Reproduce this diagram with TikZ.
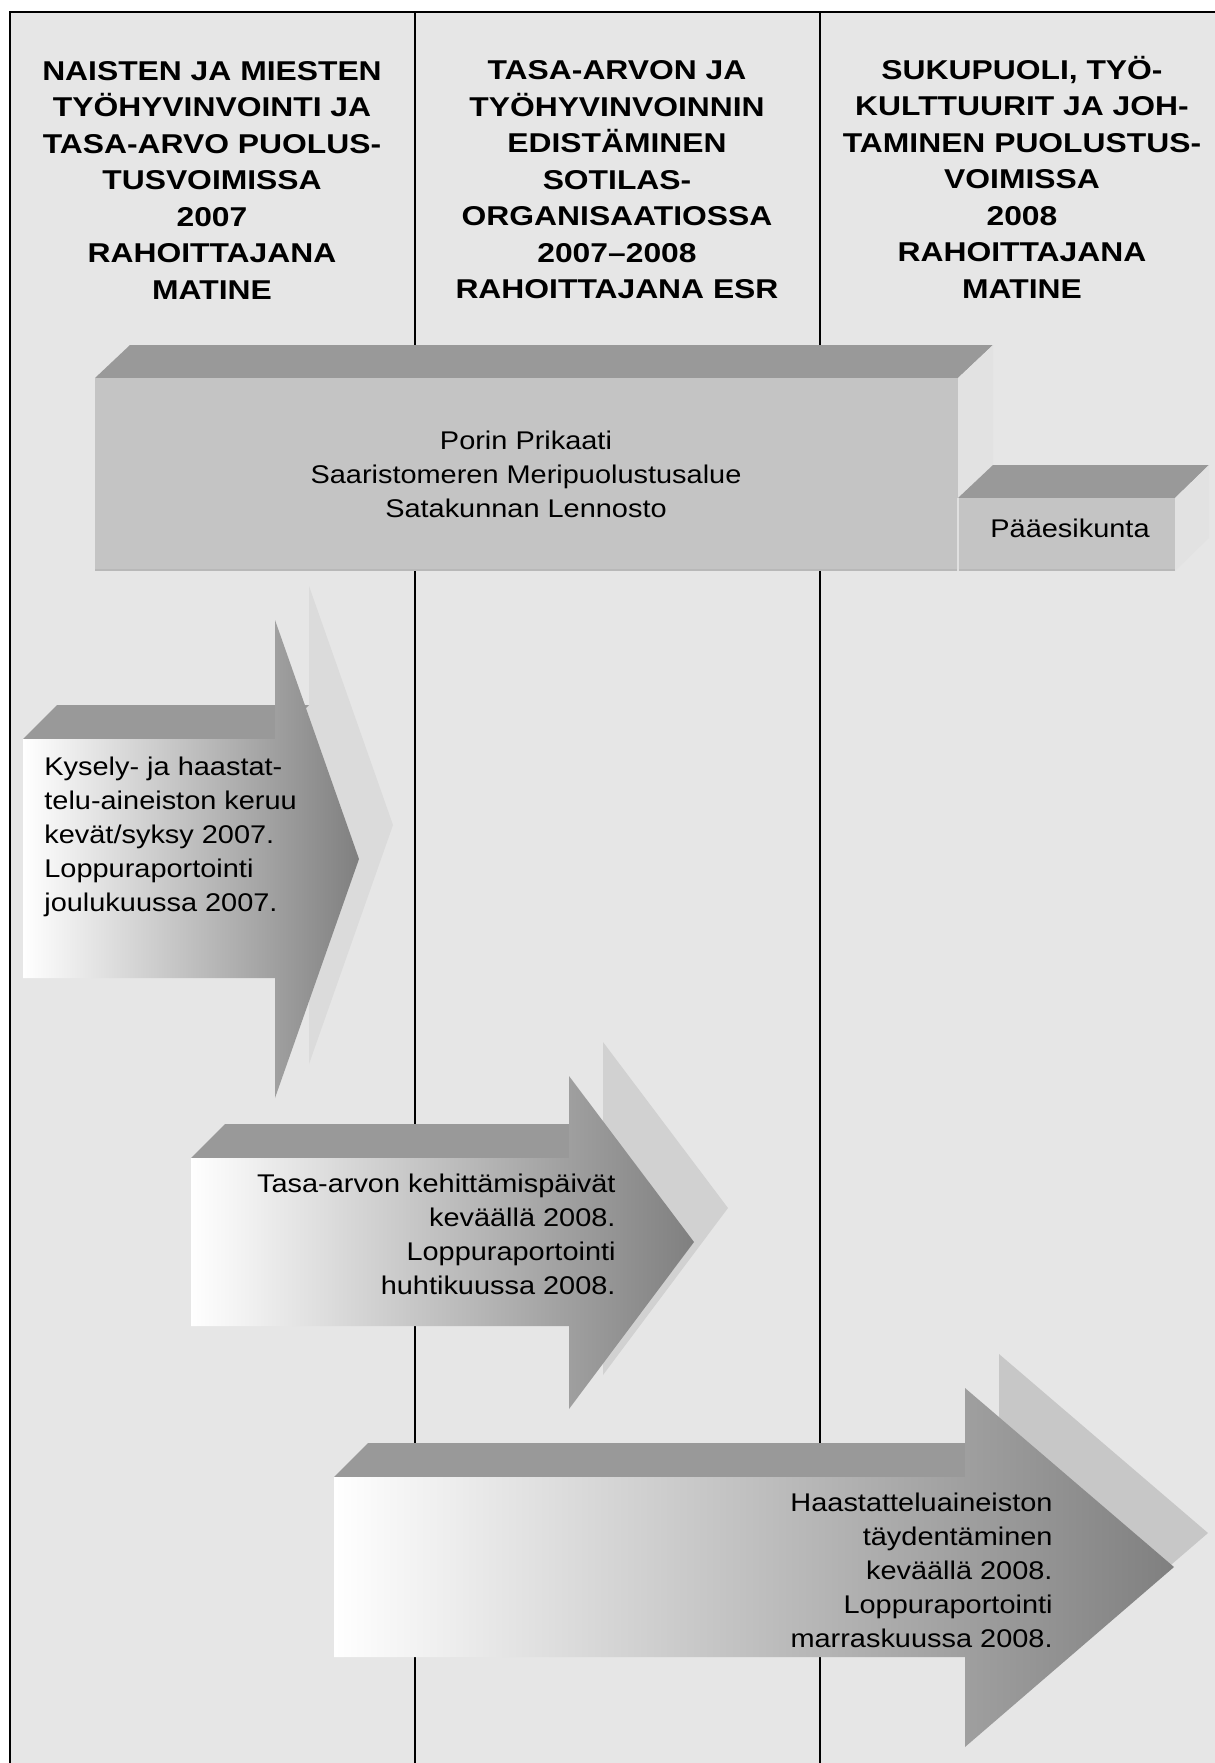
\documentclass[tikz,border=0pt]{standalone}
\usepackage{fontspec}
\setmainfont{Liberation Sans}[FakeStretch=1.13]
\newfontfamily\headfont{Liberation Sans}[FakeStretch=1.17, Ligatures=TeX]

\definecolor{panelgray}{RGB}{230,230,230}
\definecolor{frontgray}{RGB}{196,196,196}
\definecolor{topgray}{RGB}{153,153,153}
\definecolor{sidegray}{RGB}{226,226,226}

\tikzset{
  header/.style={font=\headfont\bfseries\fontsize{13.6}{18.25}\selectfont, align=center, inner sep=0pt},
  bodytext/.style={font=\fontsize{12.8}{17}\selectfont, inner sep=0pt},
  topface/.style={fill=topgray},
}

\begin{document}
\begin{tikzpicture}[x=0.5pt, y=-0.5pt]

\useasboundingbox (0,0) rectangle (1215,1763);

\fill[panelgray] (10,12) rectangle (1215,1763);
\draw[black, line width=1pt] (10,1763) -- (10,12) -- (1215,12);
\foreach \colx in {415,820}
  \draw[black, line width=0.9pt] (\colx,12) -- (\colx,1763);

% column headers
\node[header] (head1) at (212,180) {NAISTEN JA MIESTEN\\TYÖHYVINVOINTI JA\\TASA-ARVO PUOLUS-\\TUSVOIMISSA\\2007\\RAHOITTAJANA\\MATINE};
\node[header] (head2) at (617,180) {TASA-ARVON JA\\TYÖHYVINVOINNIN\\EDISTÄMINEN\\SOTILAS-\\ORGANISAATIOSSA\\2007–2008\\RAHOITTAJANA ESR};
\node[header] (head3) at (1022,177) {SUKUPUOLI, TYÖ-\\KULTTUURIT JA JOH-\\TAMINEN PUOLUSTUS-\\VOIMISSA\\2008\\RAHOITTAJANA\\MATINE};

% units box
\fill[topface] (95,378) -- (130,345) -- (993,345) -- (958,378) -- cycle;
\fill[sidegray] (958,378) -- (993,345) -- (993,538) -- (958,571) -- cycle;
\fill[frontgray] (95,378) rectangle (958,571);
\draw[black!28, line width=0.8pt] (95,570) -- (958,570);
\node[bodytext, align=center] (units) at (526,474) {Porin Prikaati\\Saaristomeren Meripuolustusalue\\Satakunnan Lennosto};

% headquarters box
\fill[topface] (958,498) -- (993,465) -- (1209,465) -- (1175,498) -- cycle;
\fill[sidegray] (1175,498) -- (1209,465) -- (1209,538) -- (1175,571) -- cycle;
\fill[frontgray] (958,498) rectangle (1175,571);
\draw[black!28, line width=0.8pt] (958,570) -- (1175,570);
\draw[black!12, line width=0.6pt] (958,498) -- (958,571);
\node[bodytext] (hq) at (1070,528) {Pääesikunta};

% phase arrows
\foreach \l/\t/\b/\h/\u/\w/\x/\c/\s in {
    23/739/978/275/620/1098/359/859/14,
    191/1158/1326/569/1076/1409/694/1242/18,
    334/1477/1657/965/1388/1747/1174/1567/22}{
  \begin{scope}[shift={(34,-34)}]
    \fill[black!\s] (\l,\t) -- (\h,\t) -- (\h,\u) -- (\x,\c) -- (\h,\w) -- (\h,\b) -- (\l,\b) -- cycle;
  \end{scope}
  \fill[topface] (\l,\t) -- (\l+34,\t-34) -- (\h+34,\t-34) -- (\h,\t) -- cycle;
  \shade[left color=white, right color=black!50] (\l,\t) -- (\h,\t) -- (\h,\u) -- (\x,\c) -- (\h,\w) -- (\h,\b) -- (\l,\b) -- cycle;
}

\node[bodytext, align=left, anchor=west] (phase1) at (44,837) {Kysely- ja haastat-\\telu-aineiston keruu\\kevät/syksy 2007.\\Loppuraportointi\\joulukuussa 2007.};
\node[bodytext, align=right, anchor=east] (phase2) at (616,1234) {Tasa-arvon kehittämispäivät\\keväällä 2008.\\Loppuraportointi\\huhtikuussa 2008.};
\node[bodytext, align=right, anchor=east] (phase3) at (1053,1570) {Haastatteluaineiston\\täydentäminen\\keväällä 2008.\\Loppuraportointi\\marraskuussa 2008.};

\end{tikzpicture}
\end{document}
